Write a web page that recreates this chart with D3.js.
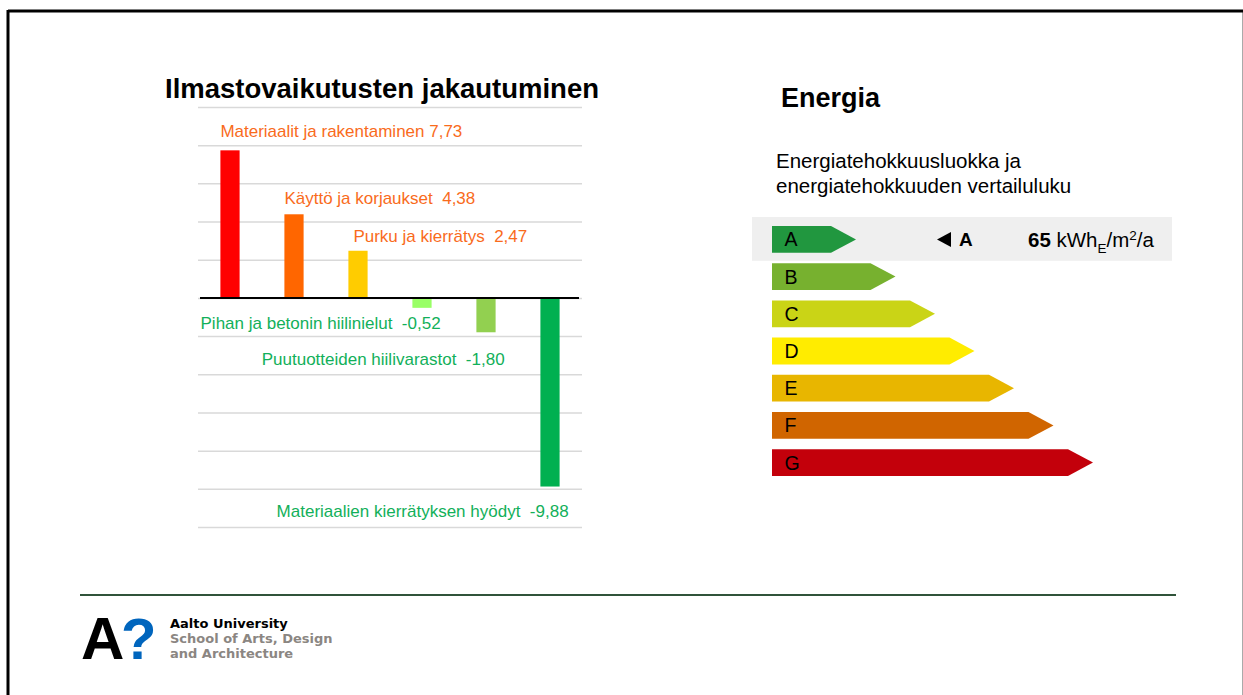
<!DOCTYPE html>
<html>
<head>
<meta charset="utf-8">
<script src="https://cdn.jsdelivr.net/npm/d3@7"></script>
<style>
  body { margin: 0; background: #fff; }
  svg { display: block; font-family: Arial, "Liberation Sans", sans-serif; }
  text { white-space: pre; }
</style>
</head>
<body>
<div id="chart"></div>
<script>
// climate impact breakdown (kgCO2e/m2/a)
const categories = ["Materiaalit ja rakentaminen", "Käyttö ja korjaukset", "Purku ja kierrätys",
    "Pihan ja betonin hiilinielut", "Puutuotteiden hiilivarastot", "Materiaalien kierrätyksen hyödyt"];
const values = [7.73, 4.38, 2.47, -0.52, -1.80, -9.88];
const barColors = ["#ff0000", "#ff6600", "#ffcc00", "#99ff66", "#92d050", "#00b050"];
const yTicks = [-12, -10, -8, -6, -4, -2, 0, 2, 4, 6, 8, 10];

// energy label
const energyClasses = ["A", "B", "C", "D", "E", "F", "G"];
const classColors = ["#21973f", "#77b12f", "#cad416", "#ffec00", "#e8b600", "#d06500", "#c3000b"];
const currentClass = "A";
const energyValue = 65;

const W = 1243, H = 695;
const svg = d3.select("#chart").append("svg")
    .attr("width", W).attr("height", H);

// slide frame
svg.append("rect").attr("x", 1242).attr("y", 10).attr("width", 1).attr("height", H).attr("fill", "#aaa");
svg.append("line").attr("x1", 8).attr("x2", W).attr("y1", 11).attr("y2", 11)
    .attr("stroke", "#000").attr("stroke-width", 3);
svg.append("line").attr("x1", 8).attr("x2", 8).attr("y1", 10).attr("y2", H)
    .attr("stroke", "#000").attr("stroke-width", 3);

// ---- left: bar chart ----
svg.append("text")
    .attr("x", 382).attr("y", 98)
    .attr("text-anchor", "middle")
    .attr("font-size", 27.5).attr("font-weight", "bold")
    .text("Ilmastovaikutusten jakautuminen");

const x = d3.scaleBand()
    .domain(categories)
    .range([198, 582])
    .paddingInner(0.7)
    .paddingOuter(0.35);

const y = d3.scaleLinear()
    .domain([-12, 10])
    .range([527, 107]);

const grid = svg.append("g")
    .attr("transform", "translate(198,0)")
    .call(d3.axisRight(y).tickValues(yTicks).tickSize(384).tickFormat(""));
grid.select(".domain").remove();
grid.selectAll(".tick line").attr("stroke", "#d9d9d9").attr("stroke-width", 1.5);

svg.append("g")
    .selectAll("rect")
    .data(values)
    .join("rect")
    .attr("x", (d, i) => x(categories[i]))
    .attr("width", x.bandwidth())
    .attr("y", d => y(Math.max(0, d)))
    .attr("height", d => Math.abs(y(d) - y(0)))
    .attr("fill", (d, i) => barColors[i]);

svg.append("line")
    .attr("x1", 200).attr("x2", 579)
    .attr("y1", y(0)).attr("y2", y(0))
    .attr("stroke", "#000").attr("stroke-width", 2);

const fmt = d => d3.format(".2f")(d).replace(".", ",").replace("−", "-");
const labelOffsets = [-13, -10, -9, 21, 33, 30];

svg.append("g")
    .selectAll("text")
    .data(values)
    .join("text")
    .attr("x", (d, i) => d >= 0 ? x(categories[i]) + (i === 2 ? 5 : 0) : x(categories[i]) + x.bandwidth() + 9)
    .attr("y", (d, i) => y(d) + labelOffsets[i])
    .attr("text-anchor", d => d >= 0 ? "start" : "end")
    .attr("font-size", 17)
    .attr("fill", d => d >= 0 ? "#f96b1c" : "#12b05a")
    .text((d, i) => categories[i] + (i === 0 ? " " : "  ") + fmt(d));

// ---- right: energy label ----
svg.append("text")
    .attr("x", 781).attr("y", 107)
    .attr("font-size", 27).attr("font-weight", "bold")
    .text("Energia");

svg.append("text")
    .attr("x", 776).attr("y", 167.5)
    .attr("font-size", 20.5)
    .text("Energiatehokkuusluokka ja");
svg.append("text")
    .attr("x", 776).attr("y", 192.5)
    .attr("font-size", 20.5)
    .text("energiatehokkuuden vertailuluku");

const ey = d3.scaleBand()
    .domain(energyClasses)
    .range([226, 476])
    .paddingInner(0.28)
    .paddingOuter(0);

const elen = d3.scaleLinear()
    .domain([0, energyClasses.length - 1])
    .range([84, 321]);

const tip = 25;
const eh = ey.bandwidth();
const ex0 = 772;

// highlight band for current class
svg.append("rect")
    .attr("x", 752).attr("width", 420)
    .attr("y", ey(currentClass) - 9).attr("height", eh + 17)
    .attr("fill", "#efefef");

const arrows = svg.append("g")
    .selectAll("g")
    .data(energyClasses)
    .join("g")
    .attr("transform", d => `translate(${ex0},${ey(d)})`);

arrows.append("path")
    .attr("d", (d, i) => {
        const L = elen(i);
        return `M0,0H${L - tip}L${L},${eh / 2}L${L - tip},${eh}H0Z`;
    })
    .attr("fill", (d, i) => classColors[i]);

arrows.append("text")
    .attr("x", 12.5).attr("y", eh / 2)
    .attr("dy", "0.36em")
    .attr("font-size", 19.5)
    .text(d => d);

// current class marker
const cy = ey(currentClass) + eh / 2;
svg.append("path")
    .attr("d", `M937,${cy}L951,${cy - 7.5}V${cy + 7.5}Z`)
    .attr("fill", "#000");
svg.append("text")
    .attr("x", 959).attr("y", cy).attr("dy", "0.36em")
    .attr("font-size", 19).attr("font-weight", "bold")
    .text(currentClass);

const vt = svg.append("text")
    .attr("x", 1028).attr("y", cy).attr("dy", "0.36em")
    .attr("font-size", 20.5);
vt.append("tspan").attr("font-weight", "bold").text(energyValue + " ");
vt.append("tspan").text("kWh");
vt.append("tspan").attr("font-size", 13.5).attr("dy", "0.45em").text("E");
vt.append("tspan").attr("dy", "-0.3em").text("/m");
vt.append("tspan").attr("font-size", 13.5).attr("dy", "-0.5em").text("2");
vt.append("tspan").attr("dy", "0.35em").text("/a");

// ---- footer ----
svg.append("line")
    .attr("x1", 80).attr("x2", 1176).attr("y1", 595).attr("y2", 595)
    .attr("stroke", "#30533a").attr("stroke-width", 2);

svg.append("text")
    .attr("x", 81).attr("y", 659)
    .attr("font-size", 60).attr("font-weight", "bold")
    .attr("fill", "#000")
    .text("A");
svg.append("text")
    .attr("x", 121).attr("y", 659)
    .attr("font-size", 58).attr("font-weight", "bold")
    .attr("fill", "#0065bd")
    .text("?");

const logoText = svg.append("g")
    .attr("font-family", "'DejaVu Sans', sans-serif")
    .attr("font-weight", "bold")
    .attr("font-size", 13);
logoText.append("text").attr("x", 170).attr("y", 628).attr("fill", "#000").text("Aalto University");
logoText.append("text").attr("x", 170).attr("y", 643).attr("fill", "#8b8682").text("School of Arts, Design");
logoText.append("text").attr("x", 170).attr("y", 658).attr("fill", "#8b8682").text("and Architecture");
</script>
</body>
</html>
